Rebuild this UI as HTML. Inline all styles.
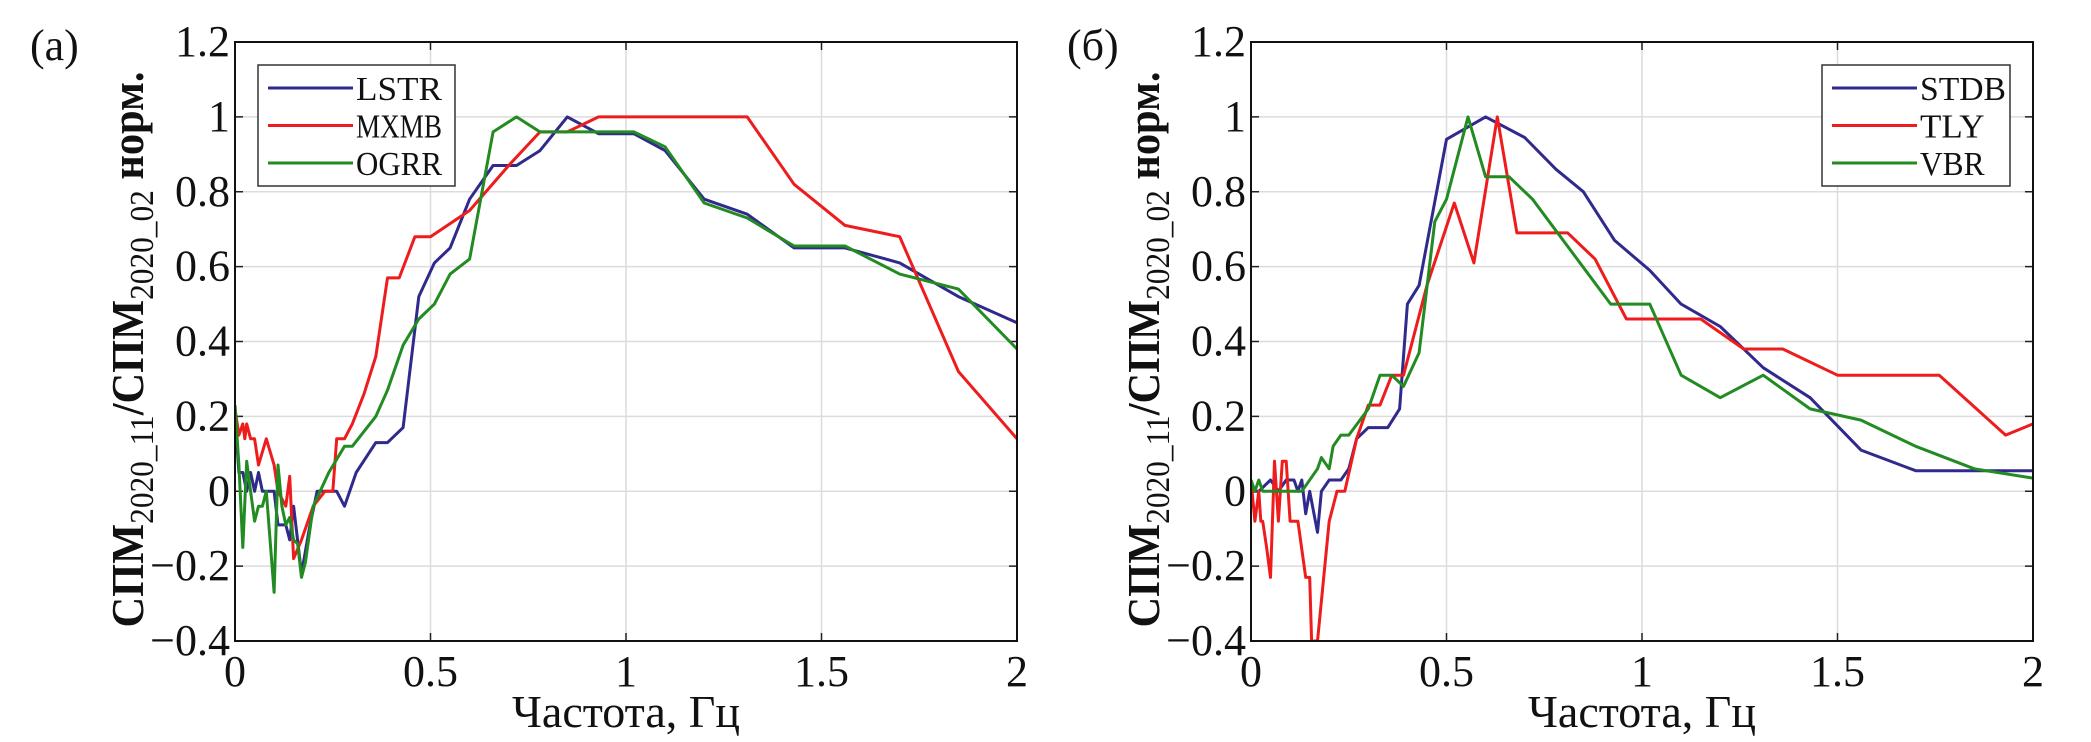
<!DOCTYPE html>
<html><head><meta charset="utf-8"><style>
html,body{margin:0;padding:0;background:#fff;}
svg, svg text{font-family:"Liberation Serif","DejaVu Serif",serif;}
svg{display:block;}
</style></head><body>
<svg id="svg" width="2091" height="742" viewBox="0 0 2091 742" xmlns="http://www.w3.org/2000/svg"></svg>
<script>
const xTicks=[0,0.5,1,1.5,2];
const xTickLabels=["0","0.5","1","1.5","2"];
const yTicks=[-0.4,-0.2,0,0.2,0.4,0.6,0.8,1,1.2];
const yTickLabels=["\u22120.4","\u22120.2","0","0.2","0.4","0.6","0.8","1","1.2"];

const lstrX=[0,0.01,0.02,0.03,0.04,0.05,0.06,0.07,0.1,0.11,0.13,0.14,0.15,0.17,0.19,0.21,0.26,0.28,0.31,0.36,0.39,0.43,0.47,0.51,0.55,0.6,0.66,0.72,0.78,0.85,0.93,1.02,1.1,1.2,1.31,1.43,1.56,1.7,1.85,2];
const lstrY=[0.2,0.05,0.05,0,0.05,0,0.05,0,0,-0.09,-0.09,-0.13,-0.04,-0.22,-0.1,0,0,-0.04,0.05,0.13,0.13,0.17,0.52,0.61,0.65,0.78,0.87,0.87,0.91,1.0,0.955,0.955,0.91,0.78,0.74,0.65,0.65,0.61,0.52,0.45];
const mxmbX=[0,0.01,0.02,0.025,0.03,0.04,0.05,0.06,0.08,0.1,0.11,0.13,0.14,0.15,0.17,0.2,0.23,0.25,0.26,0.28,0.3,0.33,0.36,0.39,0.42,0.46,0.5,0.6,0.7,0.78,0.85,0.93,1.31,1.43,1.56,1.7,1.85,2];
const mxmbY=[0.22,0.15,0.18,0.14,0.18,0.14,0.14,0.07,0.14,0.07,0,-0.04,0.04,-0.18,-0.13,-0.04,0,0,0.14,0.14,0.18,0.26,0.36,0.57,0.57,0.68,0.68,0.75,0.87,0.96,0.96,1.0,1.0,0.82,0.71,0.68,0.32,0.14];
const ogrrX=[0,0.01,0.02,0.03,0.04,0.05,0.06,0.07,0.08,0.1,0.11,0.12,0.13,0.14,0.15,0.16,0.17,0.18,0.2,0.24,0.28,0.3,0.36,0.39,0.43,0.47,0.51,0.55,0.6,0.66,0.72,0.78,1.02,1.1,1.2,1.31,1.43,1.56,1.7,1.85,2];
const ogrrY=[0.23,0.07,-0.15,0.08,0,-0.08,-0.04,-0.04,0,-0.27,0.07,-0.04,-0.09,-0.07,-0.13,-0.14,-0.23,-0.19,-0.04,0.05,0.12,0.12,0.2,0.27,0.39,0.46,0.5,0.58,0.62,0.96,1.0,0.96,0.96,0.92,0.77,0.73,0.655,0.655,0.58,0.54,0.38];

const stdbX=[0,0.02,0.05,0.07,0.09,0.11,0.12,0.13,0.14,0.15,0.17,0.18,0.2,0.23,0.25,0.27,0.3,0.35,0.38,0.4,0.43,0.5,0.6,0.7,0.78,0.85,0.93,1.02,1.1,1.2,1.31,1.43,1.56,1.7,2];
const stdbY=[0,0,0.03,0,0.03,0.03,0,0.03,-0.06,0,-0.11,0,0.03,0.03,0.06,0.14,0.17,0.17,0.22,0.5,0.55,0.94,1.0,0.945,0.86,0.8,0.67,0.59,0.5,0.44,0.33,0.25,0.11,0.055,0.055];
const tlyX=[0,0.01,0.02,0.025,0.03,0.04,0.05,0.06,0.07,0.08,0.09,0.1,0.12,0.14,0.15,0.155,0.17,0.2,0.22,0.24,0.27,0.3,0.33,0.36,0.39,0.45,0.52,0.57,0.63,0.68,0.81,0.88,0.96,1.15,1.26,1.36,1.5,1.76,1.93,2];
const tlyY=[0.03,-0.08,0,-0.08,-0.08,-0.15,-0.23,0.08,-0.08,0.08,0.08,-0.08,-0.08,-0.23,-0.23,-0.4,-0.4,-0.08,0,0,0.14,0.23,0.23,0.31,0.31,0.55,0.77,0.61,1.0,0.69,0.69,0.62,0.46,0.46,0.38,0.38,0.31,0.31,0.15,0.18];
const vbrX=[0,0.01,0.02,0.03,0.05,0.1,0.13,0.17,0.18,0.2,0.21,0.23,0.25,0.3,0.33,0.36,0.39,0.43,0.47,0.5,0.555,0.6,0.66,0.72,0.92,1.02,1.1,1.2,1.31,1.43,1.56,1.7,1.85,2];
const vbrY=[0.03,0,0.03,0,0,0,0,0.06,0.09,0.06,0.12,0.15,0.15,0.22,0.31,0.31,0.28,0.37,0.72,0.78,1.0,0.84,0.84,0.78,0.5,0.5,0.31,0.25,0.31,0.22,0.19,0.12,0.06,0.035];

const NS="http://www.w3.org/2000/svg";
const FF='"Liberation Serif","DejaVu Serif",serif';
const svg=document.getElementById('svg');
const BLUE="#2f2a8c",RED="#ee1c1c",GREEN="#228b22";
function mk(tag,attrs,parent){const e=document.createElementNS(NS,tag);for(const k in attrs)e.setAttribute(k,attrs[k]);if(tag==='text')e.setAttribute('font-family',FF);(parent||svg).appendChild(e);return e;}

function panel(L,R,T,B,label,labelX,series,legX,legW,nameP){
  const g=mk('g',{});
  
  
  const sx=v=>L+(v-0)/(2-0)*(R-L);
  const sy=v=>B-(v+0.4)/1.6*(B-T);
  const cid=nameP+'-clip';
  const cp=mk('clipPath',{id:cid},g);mk('rect',{x:L,y:T,width:R-L,height:B-T},cp);
  xTicks.forEach((t,i)=>{
    const l=mk('line',{x1:sx(t),x2:sx(t),y1:T,y2:B,stroke:"#dcdcdc","stroke-width":1.5},g);
    
    
    mk('line',{x1:sx(t),x2:sx(t),y1:B,y2:B-8,stroke:"#222","stroke-width":1.5},g);
    mk('line',{x1:sx(t),x2:sx(t),y1:T,y2:T+8,stroke:"#222","stroke-width":1.5},g);
    const tx=mk('text',{x:sx(t),y:B+45,"font-size":44,"text-anchor":"middle",fill:"#111"},g);
    tx.textContent=xTickLabels[i];
    
    
  });
  yTicks.forEach((t,i)=>{
    const l=mk('line',{x1:L,x2:R,y1:sy(t),y2:sy(t),stroke:"#dcdcdc","stroke-width":1.5},g);
    
    
    mk('line',{x1:L,x2:L+8,y1:sy(t),y2:sy(t),stroke:"#222","stroke-width":1.5},g);
    mk('line',{x1:R,x2:R-8,y1:sy(t),y2:sy(t),stroke:"#222","stroke-width":1.5},g);
    const tx=mk('text',{x:L-5,y:sy(t)+14,"font-size":44,"text-anchor":"end",fill:"#111"},g);
    tx.textContent=yTickLabels[i];
    
    
  });
  series.forEach(s=>{
    const d=s.x.map((v,i)=>(i?'L':'M')+sx(v).toFixed(1)+','+sy(s.y[i]).toFixed(1)).join('');
    const p=mk('path',{d:d,fill:"none",stroke:s.c,"stroke-width":3,"stroke-linejoin":"round","clip-path":"url(#"+cid+")"},g);
    
    
  });
  const fr=mk('rect',{x:L,y:T,width:R-L,height:B-T,fill:"none",stroke:"#111","stroke-width":2},g);
  
  
  const lg=mk('g',{},g);
  
  
  mk('rect',{x:legX,y:65,width:legW,height:121,fill:"#fff",stroke:"#333","stroke-width":1.5},lg);
  series.forEach((s,i)=>{
    const y=88+i*37.5;
    mk('line',{x1:legX+10,x2:legX+95,y1:y,y2:y,stroke:s.c,"stroke-width":3},lg);
    const t=mk('text',{x:legX+98,y:y+12,"font-size":34,fill:"#111",textLength:s.n.length*21.5,lengthAdjust:"spacingAndGlyphs"},lg);
    t.textContent=s.n;
    
    
  });
  const pl=mk('text',{x:labelX,y:60,"font-size":44,fill:"#111"},g);
  pl.textContent=label;
  
  
  const xl=mk('text',{x:(L+R)/2,y:727,"font-size":46,"text-anchor":"middle",fill:"#111"},g);
  xl.textContent="Частота, Гц";
  
  
  const cy=(T+B)/2+8;
  const yl=mk('text',{x:0,y:0,"font-size":46,"font-weight":"bold","text-anchor":"middle",fill:"#111",textLength:556,lengthAdjust:"spacingAndGlyphs",transform:"translate("+(L-92)+","+cy+") rotate(-90)"},g);
  
  
  yl.innerHTML='СПМ<tspan font-size="34" font-weight="normal" dy="10">2020_11</tspan><tspan dy="-10">/СПМ</tspan><tspan font-size="34" font-weight="normal" dy="10">2020_02</tspan><tspan dy="-10"> норм.</tspan>';
}

panel(235,1017,42,641,"(a)",30,[
  {n:"LSTR",x:lstrX,y:lstrY,c:BLUE},
  {n:"MXMB",x:mxmbX,y:mxmbY,c:RED},
  {n:"OGRR",x:ogrrX,y:ogrrY,c:GREEN}],258,197,"left");
panel(1251,2033,42,641,"(б)",1067,[
  {n:"STDB",x:stdbX,y:stdbY,c:BLUE},
  {n:"TLY",x:tlyX,y:tlyY,c:RED},
  {n:"VBR",x:vbrX,y:vbrY,c:GREEN}],1822,188,"right");
</script>
</body></html>
